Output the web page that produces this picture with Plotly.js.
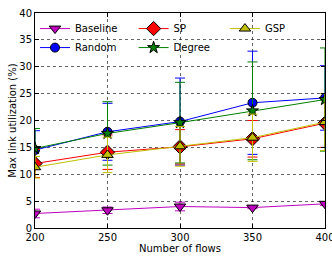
<!DOCTYPE html>
<html><head><meta charset="utf-8">
<script src="https://cdn.plot.ly/plotly-3.0.1.min.js"></script>
<style>html,body{margin:0;padding:0;background:#fff}#c{width:332px;height:260px}</style>
</head><body><div id="c"></div>
<script>
const flows = [200, 250, 300, 350, 400];
const baseline = [2.7, 3.3, 4.0, 3.8, 4.5];
const baselineErr = [0.8, 0.6, 0.8, 0.2, 0.3];
const random = [14.5, 17.9, 19.8, 23.3, 24.2];
const randomErr = [3.6, 5.3, 8.1, 9.6, 6.0];
const sp = [12.0, 14.1, 15.1, 16.6, 19.5];
const spErr = [2.6, 3.2, 3.2, 3.4, 4.5];
const degree = [14.8, 17.6, 19.6, 21.8, 23.9];
const degreeErr = [3.7, 5.9, 7.5, 9.1, 9.6];
const gsp = [11.3, 13.6, 15.2, 16.8, 19.7];
const gspErr = [2.0, 3.3, 3.7, 4.4, 5.3];

function tr(name, y, err, color, symbol, size, leg) {
  return {
    x: flows, y: y, name: name, type: 'scatter', mode: 'lines+markers', legend: leg,
    line: {color: color, width: 1},
    marker: {color: color, symbol: symbol, size: size, line: {color: '#000', width: 1}},
    error_y: {type: 'data', array: err, visible: true, color: color, thickness: 1, width: 5}
  };
}
const data = [
  tr('Baseline', baseline, baselineErr, '#bf00bf', 'triangle-down', 10, 'legend'),
  tr('Random', random, randomErr, '#0000ff', 'circle', 9, 'legend'),
  tr('SP', sp, spErr, '#ff0000', 'diamond', 11, 'legend2'),
  tr('Degree', degree, degreeErr, '#008000', 'star', 9, 'legend2'),
  tr('GSP', gsp, gspErr, '#bfbf00', 'triangle-up', 10, 'legend3')
];
const axisCommon = {
  showline: true, mirror: 'ticks', linecolor: '#000', linewidth: 1,
  ticks: 'inside', ticklen: 4, tickcolor: '#000',
  showgrid: true, gridcolor: '#000', griddash: 'dot', gridwidth: 0.6,
  zeroline: false, tickfont: {family: 'DejaVu Sans', size: 10, color: '#000'},
  ticklabeloverflow: 'allow'
};
function leg(x) {
  return {orientation: 'v', x: x, y: 0.995, xanchor: 'left', yanchor: 'top',
    bgcolor: 'rgba(0,0,0,0)', font: {size: 10}, tracegroupgap: 0, traceorder: 'normal'};
}
const layout = {
  width: 332, height: 260,
  margin: {l: 35, r: 7, t: 13, b: 32},
  paper_bgcolor: '#fff', plot_bgcolor: '#fff',
  font: {family: 'DejaVu Sans', size: 10, color: '#000'},
  xaxis: Object.assign({}, axisCommon, {
    range: [200, 400], tickvals: flows, ticktext: flows.map(String),
    title: {text: 'Number of flows', font: {size: 10}, standoff: 2}
  }),
  yaxis: Object.assign({}, axisCommon, {
    range: [0, 40], dtick: 5,
    title: {text: 'Max link utilization (%)', font: {size: 10}, standoff: 0}
  }),
  showlegend: true,
  legend: leg(0.0),
  legend2: leg(0.34),
  legend3: leg(0.655)
};
Plotly.newPlot('c', data, layout, {displayModeBar: false, staticPlot: true});
</script></body></html>
